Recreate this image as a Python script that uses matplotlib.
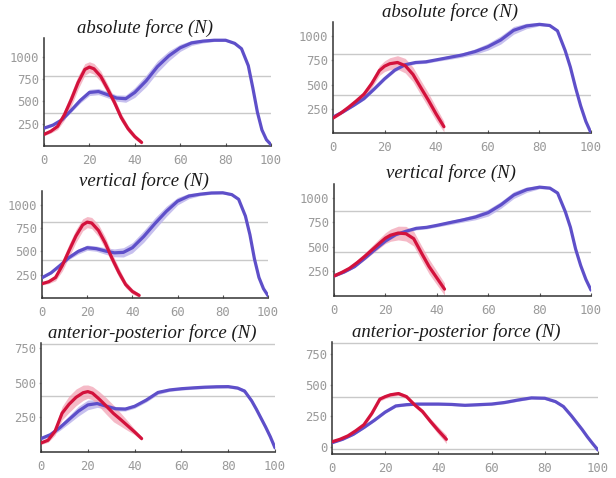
import matplotlib.pyplot as plt
import numpy as np

# --- Data ---
# % of stance on the x axis, force in N on the y axis
red_x = [0, 3, 6, 9, 12, 15, 18, 20, 22, 25, 28, 31, 34, 37, 40, 43]
blue_x = [0, 4, 8, 12, 16, 20, 24, 28, 32, 36, 40, 45, 50, 55, 60, 65, 70,
          75, 80, 84, 87, 90, 92, 94, 96, 98, 100]

# absolute force, left / right
abs_l_red = [130, 165, 220, 350, 520, 710, 858, 884, 865, 780, 640, 490, 320, 195, 105, 40]
abs_l_red_sd = [15, 20, 35, 60, 75, 75, 65, 60, 60, 60, 55, 50, 45, 35, 28, 20]
abs_l_blue = [200, 235, 295, 400, 511, 600, 610, 575, 537, 530, 600, 730, 890, 1010,
              1100, 1155, 1175, 1185, 1185, 1150, 1090, 900, 650, 380, 180, 70, 15]
abs_l_blue_sd = [12, 12, 15, 20, 28, 35, 35, 35, 35, 40, 55, 65, 65, 55, 40, 28, 20,
                 14, 12, 12, 12, 12, 12, 12, 12, 12, 10]
abs_r_red = [154, 205, 265, 330, 400, 510, 645, 690, 715, 728, 695, 605, 470, 337, 195, 65]
abs_r_red_sd = [12, 15, 20, 28, 35, 42, 50, 55, 62, 70, 75, 75, 75, 75, 70, 55]
abs_r_blue = [164, 220, 285, 355, 455, 560, 650, 705, 728, 735, 755, 780, 805, 840,
              890, 960, 1060, 1105, 1122, 1110, 1055, 850, 680, 470, 280, 120, 0]
abs_r_blue_sd = [10, 10, 12, 14, 16, 16, 16, 16, 16, 16, 16, 20, 22, 28, 35, 42, 40,
                 28, 16, 12, 12, 12, 12, 12, 12, 10, 8]

# vertical force, left / right
ver_l_red = [154, 175, 220, 350, 510, 665, 785, 815, 805, 725, 590, 425, 275, 145, 70, 28]
ver_l_red_sd = [15, 20, 35, 60, 70, 70, 65, 60, 60, 65, 65, 55, 50, 35, 28, 20]
ver_l_blue = [218, 270, 350, 435, 500, 540, 530, 505, 485, 490, 540, 660, 800, 930,
              1040, 1095, 1115, 1128, 1130, 1110, 1060, 880, 680, 420, 220, 100, 25]
ver_l_blue_sd = [12, 12, 15, 20, 28, 28, 28, 35, 42, 50, 55, 62, 62, 55, 40, 28, 16,
                 14, 12, 12, 12, 12, 12, 12, 12, 12, 10]
ver_r_red = [204, 240, 282, 340, 405, 475, 545, 590, 620, 642, 635, 585, 440, 300, 185, 70]
ver_r_red_sd = [12, 15, 20, 28, 35, 42, 50, 55, 62, 70, 75, 75, 75, 75, 70, 62]
ver_r_blue = [204, 245, 300, 385, 475, 560, 625, 660, 690, 700, 720, 748, 775, 805,
              850, 930, 1030, 1085, 1110, 1100, 1050, 860, 700, 480, 310, 170, 60]
ver_r_blue_sd = [10, 10, 12, 14, 16, 16, 16, 16, 16, 16, 16, 20, 22, 28, 35, 35, 35,
                 28, 16, 12, 12, 12, 12, 12, 12, 10, 8]

# anterior-posterior force, left / right
ap_l_red = [65, 85, 150, 280, 345, 395, 428, 436, 425, 380, 330, 278, 235, 190, 145, 97]
ap_l_red_sd = [10, 15, 28, 48, 60, 60, 55, 48, 48, 55, 60, 60, 48, 35, 20, 14]
ap_l_blue = [97, 125, 175, 235, 295, 340, 350, 330, 312, 310, 330, 375, 430, 448,
             457, 463, 468, 471, 472, 462, 440, 370, 310, 245, 180, 110, 30]
ap_l_blue_sd = [10, 14, 20, 28, 35, 35, 28, 20, 16, 14, 14, 14, 14, 10, 10, 10, 10,
                10, 10, 10, 14, 14, 14, 14, 14, 10, 8]
ap_r_red = [40, 60, 88, 130, 178, 270, 385, 405, 420, 430, 405, 340, 285, 205, 130, 60]
ap_r_red_sd = [6, 8, 10, 14, 16, 16, 16, 16, 16, 16, 16, 16, 20, 24, 30, 34]
ap_r_blue = [32, 60, 100, 155, 215, 280, 330, 340, 345, 345, 345, 342, 335, 340,
             345, 358, 378, 395, 392, 365, 325, 250, 195, 140, 80, 25, -27]
ap_r_blue_sd = [6, 6, 8, 8, 10, 10, 10, 10, 10, 10, 10, 10, 10, 10, 10, 10, 10,
                10, 10, 10, 10, 10, 10, 10, 10, 8, 6]

titles = ['absolute force (N)', 'absolute force (N)',
          'vertical force (N)', 'vertical force (N)',
          'anterior-posterior force (N)', 'anterior-posterior force (N)']
x_ticks = [0, 20, 40, 60, 80, 100]

panels = [
    (abs_l_red, abs_l_red_sd, abs_l_blue, abs_l_blue_sd),
    (abs_r_red, abs_r_red_sd, abs_r_blue, abs_r_blue_sd),
    (ver_l_red, ver_l_red_sd, ver_l_blue, ver_l_blue_sd),
    (ver_r_red, ver_r_red_sd, ver_r_blue, ver_r_blue_sd),
    (ap_l_red, ap_l_red_sd, ap_l_blue, ap_l_blue_sd),
    (ap_r_red, ap_r_red_sd, ap_r_blue, ap_r_blue_sd),
]
y_ticks = [[250, 500, 750, 1000]] * 4 + [[250, 500, 750], [0, 250, 500, 750]]
y_limits = [(0, 1210), (0, 1146), (0, 1149), (0, 1142), (0, 787), (-59, 847)]
ref_lines = [[369, 780], [390, 811], [405, 816], [449, 870], [407, 782], [-22, 403, 842]]

# --- Layout (pixel boxes: left, right, top, bottom; title centre x, y) ---
W, H = 616, 478
boxes = [(44, 271, 38, 146), (333, 591, 22, 133),
         (42, 268, 191, 298), (334, 591, 184, 296),
         (41, 275, 343, 452), (332, 598, 342, 454)]
title_pos = [(145, 28), (450, 12), (144, 181), (451, 173), (152, 333), (456, 332)]

RED = '#d3123c'
RED_BAND = '#f2a3b5'
BLUE = '#5e4fc9'
BLUE_BAND = '#bdb5ec'
TICK_GREY = '#9a9a9a'

fig = plt.figure(figsize=(W / 100, H / 100), dpi=100)
fig.patch.set_facecolor('white')

rx = np.array(red_x)
bx = np.array(blue_x)

for i, (red, red_sd, blue, blue_sd) in enumerate(panels):
    l, r, t, b = boxes[i]
    ax = fig.add_axes([l / W, 1 - b / H, (r - l) / W, (b - t) / H])
    ax.set_xlim(0, 100)
    ax.set_ylim(*y_limits[i])

    for v in ref_lines[i]:
        ax.axhline(v, color='#c9c9c9', lw=1.0, zorder=0)

    red = np.array(red); red_sd = np.array(red_sd)
    blue = np.array(blue); blue_sd = np.array(blue_sd)
    ax.fill_between(bx, blue - blue_sd, blue + blue_sd, color=BLUE_BAND,
                    alpha=0.85, lw=0, zorder=1)
    ax.fill_between(rx, red - red_sd, red + red_sd, color=RED_BAND,
                    alpha=0.75, lw=0, zorder=2)
    ax.plot(bx, blue, color=BLUE, lw=2.3, solid_capstyle='round',
            solid_joinstyle='round', zorder=3)
    ax.plot(rx, red, color=RED, lw=2.3, solid_capstyle='round',
            solid_joinstyle='round', zorder=4)

    # axes styling
    for s in ['top', 'right']:
        ax.spines[s].set_visible(False)
    for s in ['left', 'bottom']:
        ax.spines[s].set_color('#333333')
        ax.spines[s].set_linewidth(1.1)
    ax.set_facecolor('none')
    ax.set_xticks(x_ticks)
    ax.set_xticklabels([str(v) for v in x_ticks])
    ax.set_yticks(y_ticks[i])
    ax.set_yticklabels([str(v) for v in y_ticks[i]])
    ax.tick_params(axis='x', direction='in', length=2, width=0.8,
                   colors='#555555', labelcolor=TICK_GREY, pad=6)
    ax.tick_params(axis='y', direction='out', length=1.5, width=1.0,
                   colors='#bbbbbb', labelcolor=TICK_GREY, pad=2)
    for lab in ax.get_xticklabels() + ax.get_yticklabels():
        lab.set_fontfamily('DejaVu Sans Mono')
        lab.set_fontsize(8.8)

    tx, ty = title_pos[i]
    fig.text(tx / W, 1 - ty / H, titles[i], ha='center', va='center',
             fontsize=13.5, fontstyle='italic', family='Liberation Serif',
             color='#1a1a1a')

plt.savefig('out.png', dpi=100, facecolor=fig.get_facecolor())
